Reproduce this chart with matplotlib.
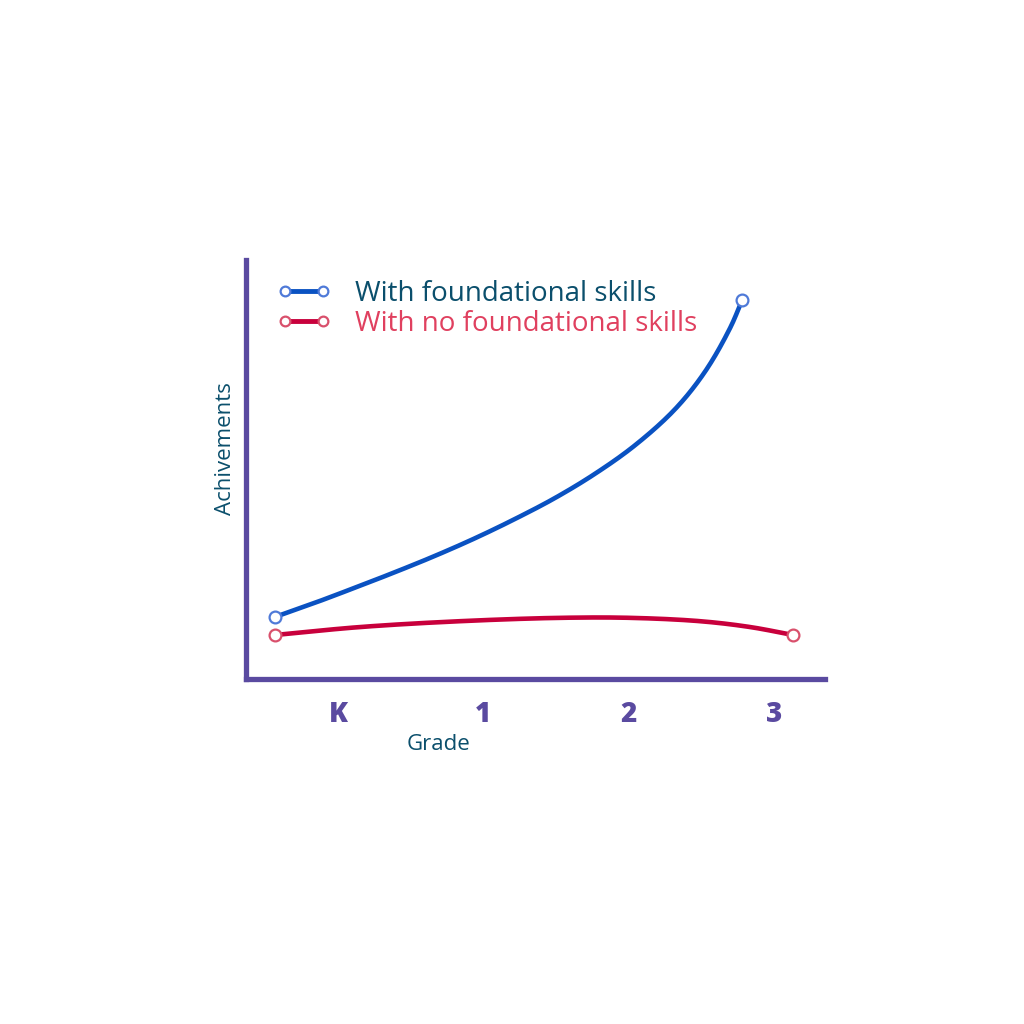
import matplotlib
matplotlib.use('Agg')
import matplotlib.pyplot as plt
from matplotlib.lines import Line2D
import numpy as np

# grade positions: K=0, 1, 2, 3 ; achievement on a 0-100 scale
grade_ticks = [0, 1, 2, 3]
grade_labels = ['K', '1', '2', '3']

with_x = [-0.434, -0.158, 0.117, 0.392, 0.668, 0.943, 1.218, 1.493, 1.769, 2.044, 2.319, 2.526, 2.698, 2.780]
with_y = [14.8, 18.2, 21.8, 25.5, 29.4, 33.6, 38.2, 43.2, 49.0, 55.8, 64.4, 73.4, 83.8, 90.4]

without_x = [-0.434, 0.151, 0.840, 1.528, 2.010, 2.491, 2.836, 3.131]
without_y = [10.5, 12.4, 13.8, 14.6, 14.6, 13.8, 12.4, 10.5]

purple = '#5a4aa0'
teal = '#0b4f6c'
blue = '#0a52c2'
blue_mk = '#4f7ad8'
red = '#c8003c'
red_mk = '#d9506c'
pink_txt = '#e0405f'


def smooth(xs, ys, n=24):
    # centripetal catmull-rom through the read points, only to draw a round line
    sx = 1.0 / (max(xs) - min(xs))
    sy = 1.0 / 100.0
    p = np.column_stack([np.array(xs) * sx, np.array(ys) * sy])
    p = np.vstack([2 * p[0] - p[1], p, 2 * p[-1] - p[-2]])
    out = []
    for i in range(1, len(p) - 2):
        p0, p1, p2, p3 = p[i - 1], p[i], p[i + 1], p[i + 2]
        t0 = 0.0
        t1 = t0 + np.linalg.norm(p1 - p0) ** 0.5
        t2 = t1 + np.linalg.norm(p2 - p1) ** 0.5
        t3 = t2 + np.linalg.norm(p3 - p2) ** 0.5
        t = np.linspace(t1, t2, n, endpoint=False)[:, None]
        a1 = (t1 - t) / (t1 - t0) * p0 + (t - t0) / (t1 - t0) * p1
        a2 = (t2 - t) / (t2 - t1) * p1 + (t - t1) / (t2 - t1) * p2
        a3 = (t3 - t) / (t3 - t2) * p2 + (t - t2) / (t3 - t2) * p3
        b1 = (t2 - t) / (t2 - t0) * a1 + (t - t0) / (t2 - t0) * a2
        b2 = (t3 - t) / (t3 - t1) * a2 + (t - t1) / (t3 - t1) * a3
        out.append((t2 - t) / (t2 - t1) * b1 + (t - t1) / (t2 - t1) * b2)
    out.append(p[-2][None, :])
    out = np.vstack(out)
    return out[:, 0] / sx, out[:, 1] / sy


plt.rcParams['font.family'] = ['Open Sans', 'DejaVu Sans']

fig = plt.figure(figsize=(10.24, 10.24), dpi=100)
ax = fig.add_axes([0.2402, 0.3369, 0.5654, 0.4092])

ax.plot(*smooth(with_x, with_y), color=blue, lw=3.3, solid_capstyle='round', zorder=3)
ax.plot(*smooth(without_x, without_y), color=red, lw=3.3, solid_capstyle='round', zorder=3)
ax.plot([with_x[0], with_x[-1]], [with_y[0], with_y[-1]], ls='none', marker='o', ms=8.5,
        mfc='white', mec=blue_mk, mew=1.6, zorder=4)
ax.plot([without_x[0], without_x[-1]], [without_y[0], without_y[-1]], ls='none', marker='o', ms=8.5,
        mfc='white', mec=red_mk, mew=1.6, zorder=4)

ax.set_xlim(-0.633, 3.35)
ax.set_ylim(0, 100)

for s in ['top', 'right']:
    ax.spines[s].set_visible(False)
for s in ['left', 'bottom']:
    ax.spines[s].set_color(purple)
    ax.spines[s].set_linewidth(3.8)

ax.set_xticks(grade_ticks)
ax.set_xticklabels(grade_labels, fontsize=20, fontweight='heavy', color=purple)
ax.tick_params(axis='x', length=0, pad=15)
ax.set_yticks([])

ax.set_xlabel('Grade', fontsize=16, color=teal)
ax.xaxis.set_label_coords(0.332, -0.132)
ax.set_ylabel('Achivements', fontsize=16, color=teal)
ax.yaxis.set_label_coords(-0.017, 0.551)

handles = [
    Line2D([], [], color=blue, lw=3.5, marker='o', ms=7, mfc='white', mec=blue_mk, mew=1.6),
    Line2D([], [], color=red, lw=3.5, marker='o', ms=7, mfc='white', mec=red_mk, mew=1.6),
]
leg = ax.legend(handles, ['With foundational skills', 'With no foundational skills'],
                loc='upper left', bbox_to_anchor=(0.053, 0.953), frameon=False,
                borderpad=0, borderaxespad=0,
                numpoints=2, handlelength=1.97, handletextpad=0.85, labelspacing=0.08,
                fontsize=20, labelcolor=[teal, pink_txt])

fig.savefig('out.png', dpi=100, facecolor='white')
